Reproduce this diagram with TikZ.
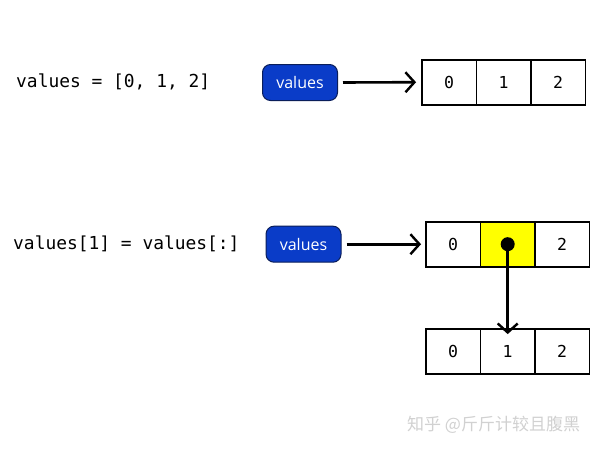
\documentclass[tikz,border=0pt]{standalone}
\usepackage{fontspec}
\setmonofont{DejaVu Sans Mono}
\newfontfamily\labelfont{Open Sans}
\newfontfamily\cjk{Noto Sans CJK SC}
\usetikzlibrary{arrows.meta}
\definecolor{varblue}{HTML}{0A3CC8}
\definecolor{varedge}{HTML}{0A1E5A}
\definecolor{hilite}{HTML}{FFFF00}
\begin{document}
\begin{tikzpicture}[x=1pt,y=-1pt,
  code/.style={anchor=west,inner sep=0pt,font=\ttfamily\fontsize{17.9}{20}\selectfont},
  var/.style={draw=varedge,line width=1pt,fill=varblue,rounded corners=8pt,
    minimum width=75pt,minimum height=36pt,inner sep=0pt,text=white,
    font=\labelfont\fontsize{16}{18}\selectfont},
  cell/.style={draw=black,line width=1.8pt,minimum width=54.5pt,minimum height=45pt,
    inner sep=0pt,font=\ttfamily\fontsize{16.5}{18}\selectfont},
  ptr/.style={line width=2.6pt,-{Straight Barb[length=9pt,width=20pt,line width=2.4pt]}},
  dotnode/.style={circle,fill=black,minimum size=14pt,inner sep=0pt}]
\useasboundingbox (0,0) rectangle (600,450);
\fill[white] (0,0) rectangle (600,450);
% row 1
\node[code] (t1) at (16,82) {values = [0, 1, 2]};
\node[var] (v1) at (300,82.5) {values};
\node[cell] (a0) at (449.2,82.2) {0};
\node[cell] (a1) at (503.7,82.2) {1};
\node[cell] (a2) at (558.2,82.2) {2};
\draw[ptr] (v1.east) ++(5,0) coordinate (s1) -- ([xshift=-5pt]a0.west);
% row 2
\node[code] (t2) at (13,244) {values[1] = values[:]};
\node[var] (v2) at (303.5,244.2) {values};
\node[cell] (b0) at (453.2,244.2) {0};
\node[cell,fill=hilite] (b1) at (507.7,244.2) {};
\node[cell] (b2) at (562.2,244.2) {2};
\draw[ptr] (v2.east) ++(5,0) coordinate (s2) -- ([xshift=-4pt]b0.west);
\node[dotnode] (d) at (b1.center) {};
% row 3
\node[cell] (c0) at (453.2,351.5) {0};
\node[cell] (c1) at (507.7,351.5) {1};
\node[cell] (c2) at (562.2,351.5) {2};
\draw[ptr] (d.center) -- ([yshift=-6pt]c1.north);
% watermark
\node[anchor=west,inner sep=0pt,text=black!18,font=\cjk\fontsize{17}{20}\selectfont] (wm) at (407,425) {知乎 @斤斤计较且腹黑};
\end{tikzpicture}
\end{document}
